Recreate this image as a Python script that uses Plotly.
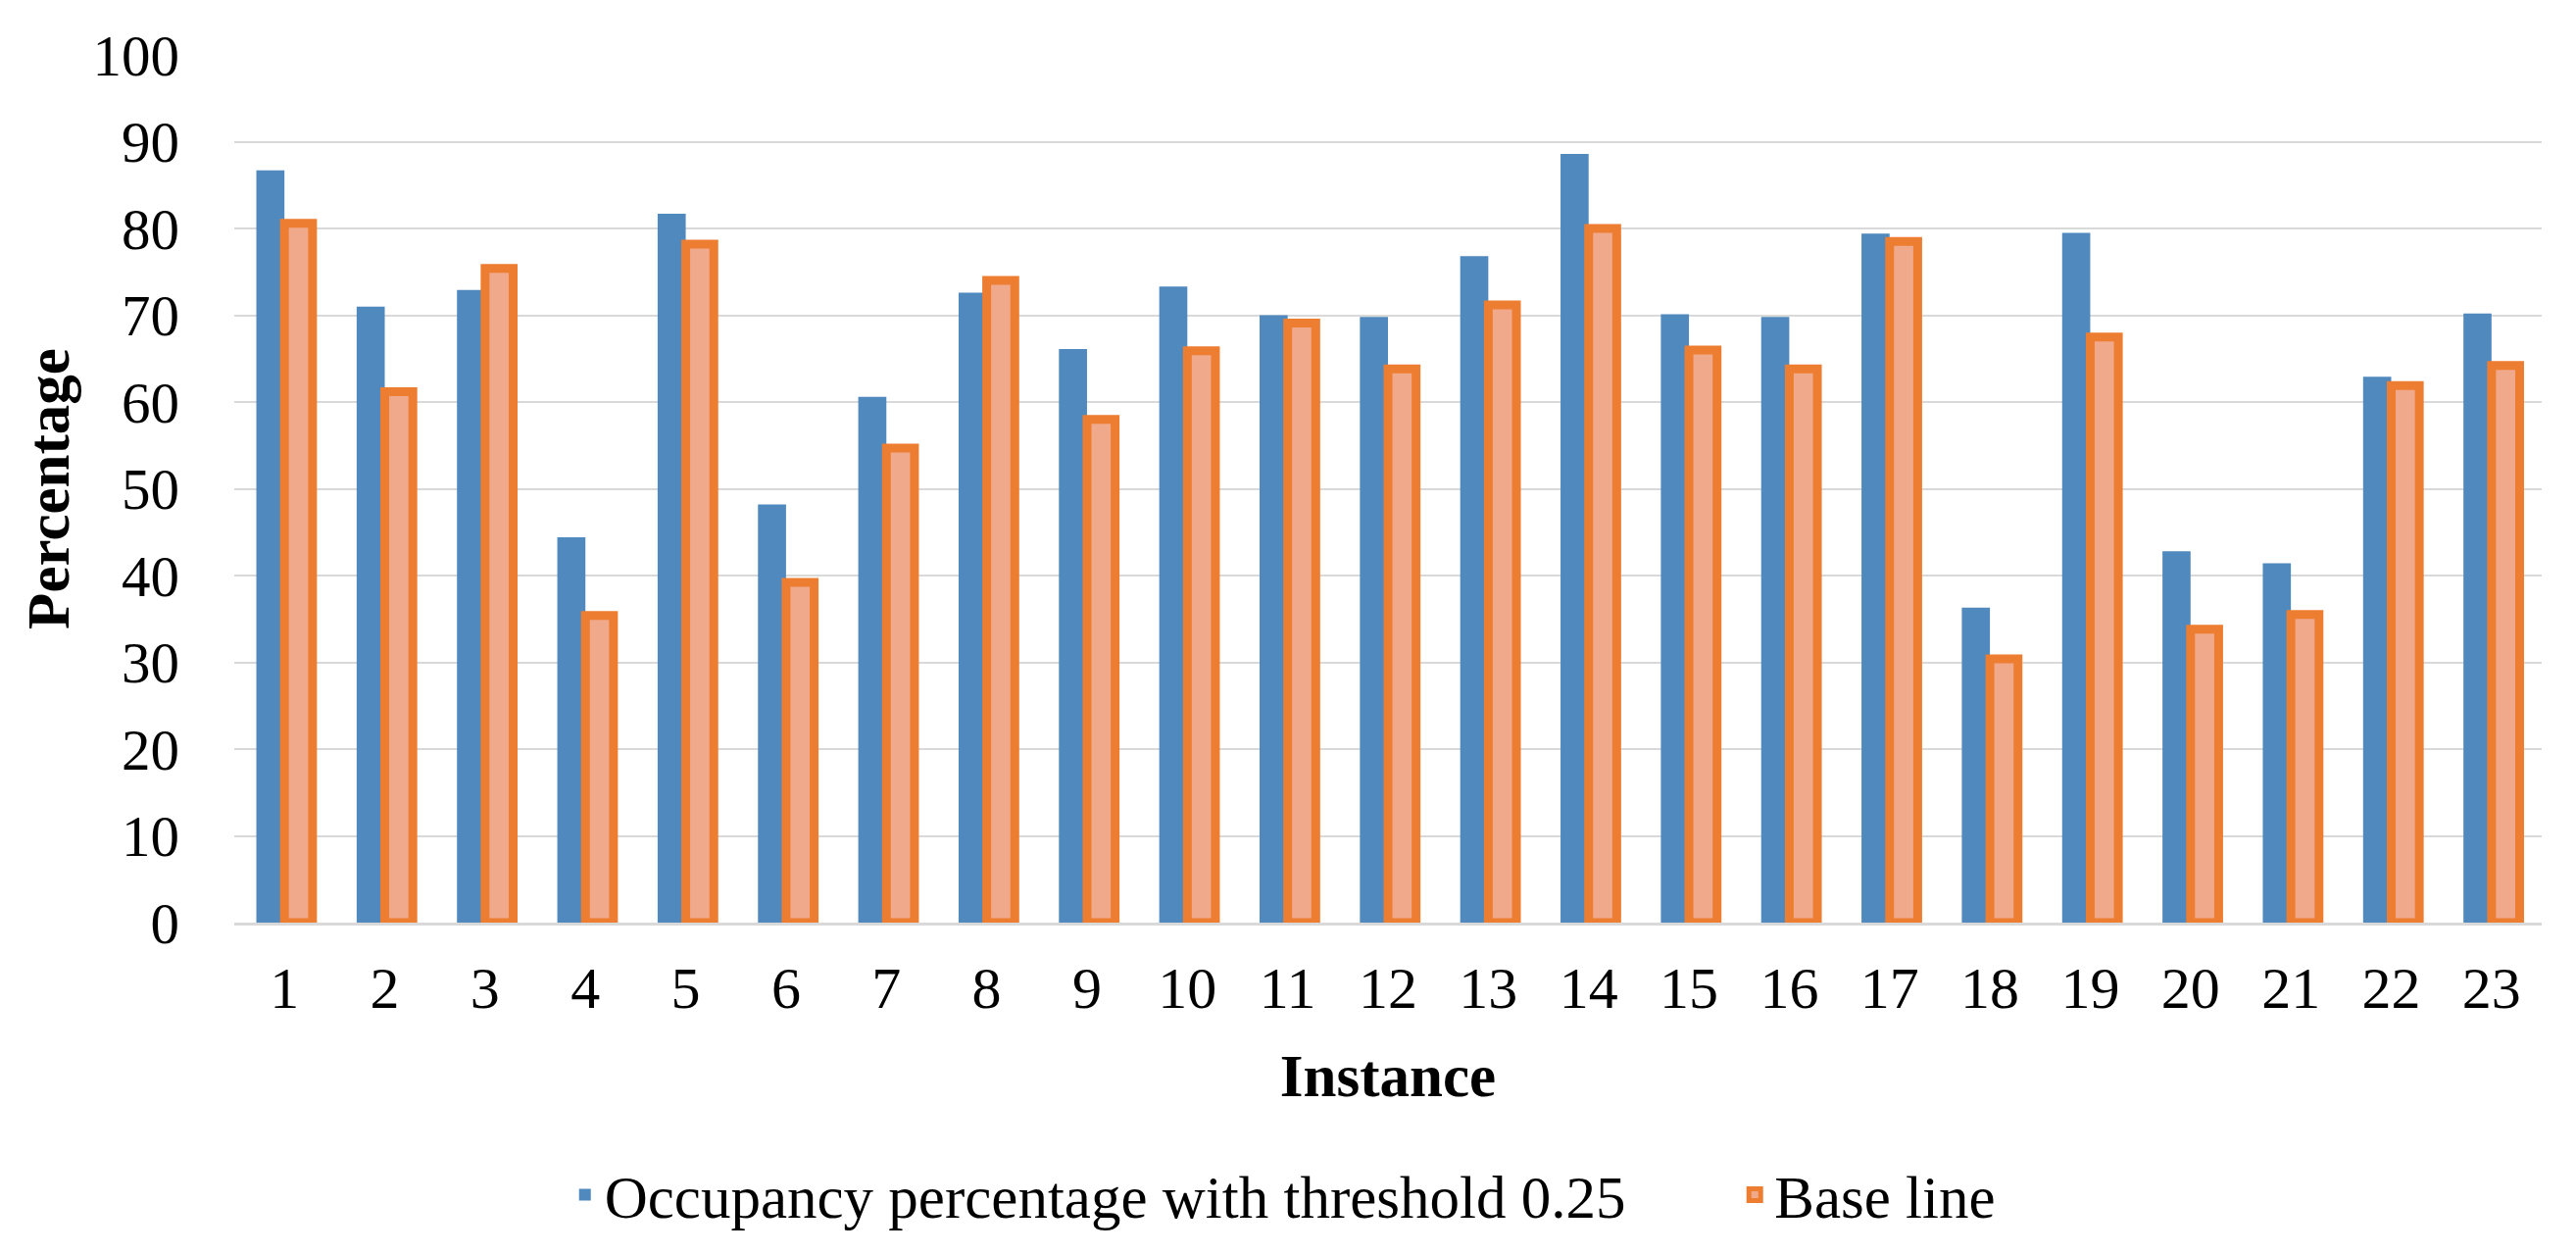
import plotly.graph_objects as go

instances = [str(i) for i in range(1, 24)]
occupancy = [86.7, 71.0, 72.9, 44.4, 81.7, 48.2, 60.6, 72.6, 66.1, 73.3, 70.0, 69.8,
             76.8, 88.6, 70.1, 69.8, 79.4, 36.3, 79.5, 42.8, 41.4, 62.9, 70.2]
baseline = [80.6, 61.2, 75.4, 35.4, 78.2, 39.2, 54.7, 74.0, 58.0, 65.9, 69.1, 63.8,
            71.2, 80.0, 66.0, 63.8, 78.5, 30.4, 67.5, 33.8, 35.5, 61.9, 64.2]
y_ticks = list(range(0, 101, 10))
series_names = ["Occupancy percentage with threshold 0.25", "Base line"]

FONT = "Liberation Serif, Times New Roman, serif"
PAD = "\u00a0" * 7  # extra room between the two legend entries

fig = go.Figure()
fig.add_trace(go.Bar(
    x=instances, y=occupancy, name=series_names[0] + PAD,
    marker=dict(color="#4F89BD", line=dict(width=0)),
))
fig.add_trace(go.Bar(
    x=instances, y=baseline, name=series_names[1],
    marker=dict(color="#F1A98B", line=dict(color="#ED7D31", width=9)),
))

fig.update_layout(
    width=2628, height=1279,
    margin=dict(l=239, r=35, t=56, b=338),
    paper_bgcolor="white", plot_bgcolor="white",
    barmode="group", bargap=0.44, bargroupgap=0,
    font=dict(family=FONT, size=61, color="black"),
    legend=dict(orientation="h", xref="container", yref="container",
                x=0.498, xanchor="center", y=0.047, yanchor="middle",
                font=dict(size=61), itemwidth=30, traceorder="normal"),
    showlegend=True,
)
fig.update_xaxes(
    type="category", showgrid=False, ticks="", ticklabelstandoff=12,
    showline=True, linecolor="#D9D9D9", linewidth=2.5, layer="above traces",
    title=dict(text="<b>Instance</b>", standoff=36, font=dict(size=61)),
    tickfont=dict(size=60),
)
fig.update_yaxes(
    range=[0, 100], tickvals=y_ticks, showgrid=True, gridcolor="#D9D9D9", gridwidth=2.3,
    zeroline=False, ticks="", ticklabelstandoff=55,
    title=dict(text="<b>Percentage</b>", standoff=4, font=dict(size=61)),
    tickfont=dict(size=59),
)

fig.write_html("out.html", config={"displayModeBar": False},
               post_script="document.body.style.margin='0';document.body.style.overflow='hidden';")
